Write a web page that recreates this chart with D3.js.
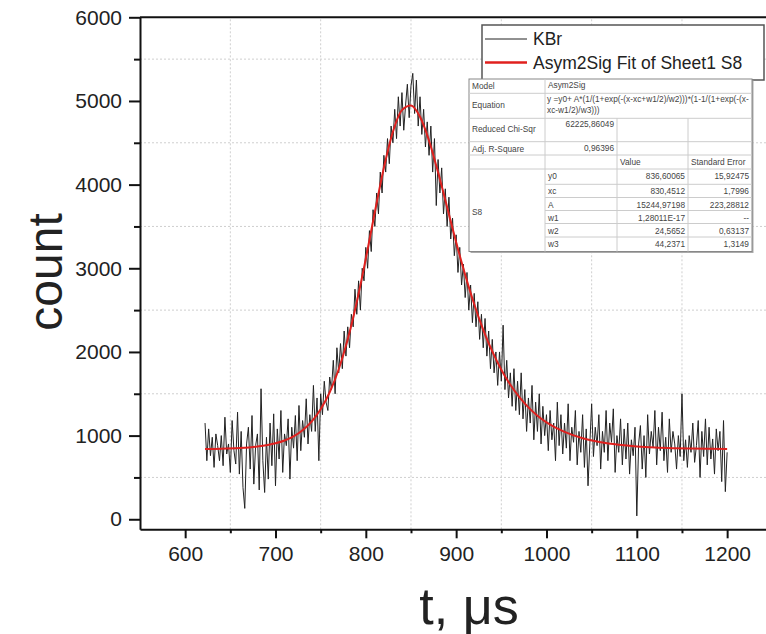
<!DOCTYPE html>
<html>
<head>
<meta charset="utf-8">
<script src="https://cdn.jsdelivr.net/npm/d3@7"></script>
<style>
  body { margin: 0; background: #fff; }
  svg { display: block; font-family: Arial, "Liberation Sans", sans-serif; }
</style>
</head>
<body>
<div id="chart"></div>
<script>
// measured counts, one every 2 us starting at 622 us
var tStart = 622;
var tStep = 2;
var counts = [
  1150, 700, 1080, 760, 980, 620, 1020, 880, 700, 1000,
  640, 1220, 780, 900, 560, 1180, 820, 660, 1280, 540,
  1050, 380, 130, 900, 1100, 600, 1240, 420, 880, 1020,
  350, 1560, 700, 320, 980, 480, 1150, 640, 1260, 400,
  1080, 720, 1300, 560, 1020, 880, 1200, 480, 1100, 850,
  1240, 700, 1360, 820, 1180, 980, 1440, 900, 1250, 1050,
  1600, 1050, 1450, 700, 1500, 1250, 1650, 1400, 1300, 1700,
  1550, 1900, 1500, 2050, 1750, 2100, 1800, 2250, 1950, 2300,
  2050, 2450, 2300, 2750, 2450, 2850, 2500, 3000, 2850, 3250,
  3000, 3450, 3200, 3700, 3500, 3900, 3650, 4150, 3900, 4350,
  4150, 4550, 4250, 4700, 4500, 4900, 4550, 5050, 4700, 5100,
  4650, 4950, 5200, 4800, 5180, 5330, 4850, 5250, 4700, 5050,
  4600, 4900, 4450, 4750, 4350, 4700, 4150, 4550, 3750, 4300,
  3900, 4200, 3650, 3950, 3500, 3850, 3350, 3600, 3150, 3400,
  2950, 3250, 2800, 3050, 2650, 2950, 2500, 2800, 2350, 2700,
  2300, 2600, 2150, 2450, 2050, 2400, 1950, 2250, 1800, 2150,
  1750, 2000, 1600, 2000, 1650, 2320, 1550, 1900, 1450, 1750,
  1350, 1800, 1300, 1650, 1250, 1750, 1200, 1550, 1050, 1450,
  1150, 1600, 950, 1400, 1050, 1500, 900, 1350, 1000, 1250,
  820, 1300, 950, 1150, 700, 1400, 880, 1250, 780, 1150,
  850, 1380, 700, 1100, 920, 1300, 650, 1050, 800, 1250,
  620, 1080, 400, 900, 1380, 750, 1100, 880, 1250, 600,
  1050, 800, 1300, 700, 1150, 920, 1320, 560, 1000, 800,
  1200, 650, 1080, 720, 1150, 540, 950, 760, 1100, 40,
  900, 1120, 600, 1000, 500, 1250, 780, 1050, 860, 1300,
  650, 1100, 820, 1280, 700, 980, 560, 1200, 800, 1050,
  900, 600, 1000, 750, 1500, 700, 950, 620, 1000, 800,
  1150, 680, 880, 1180, 500, 1050, 750, 1200, 650, 1100,
  720, 960, 540, 1080, 820, 1050, 450, 1180, 330, 800
];

// fitted curve (Asym2Sig)
var fitT = [622, 640, 660, 680, 700, 710, 720, 730, 740, 750, 760, 770, 780, 790, 800,
  810, 820, 830, 840, 850, 860, 870, 880, 890, 900, 910, 920, 930, 940, 950,
  960, 970, 980, 990, 1000, 1020, 1040, 1060, 1080, 1100, 1120, 1140, 1160, 1180, 1200];
var fitCount = [840, 843, 851, 869, 908, 942, 992, 1065, 1168, 1315, 1518, 1793, 2151, 2596, 3116,
  3672, 4203, 4632, 4891, 4947, 4811, 4525, 4147, 3730, 3311, 2921, 2570, 2265, 2006, 1788,
  1607, 1460, 1337, 1238, 1159, 1044, 969, 921, 891, 871, 858, 850, 845, 842, 840];

var xMajor = [600, 700, 800, 900, 1000, 1100, 1200];
var xMinor = [650, 750, 850, 950, 1050, 1150];
var yMajor = [0, 1000, 2000, 3000, 4000, 5000, 6000];
var yMinor = [500, 1500, 2500, 3500, 4500, 5500];

var legendLabels = ['KBr', 'Asym2Sig Fit of Sheet1 S8'];
var legendColors = ['#222', '#e0201e'];

var equationLines = ['y =y0+ A*(1/(1+exp(-(x-xc+w1/2)/w2)))*(1-1/(1+exp(-(x-', 'xc-w1/2)/w3)))'];
var paramNames = ['y0', 'xc', 'A', 'w1', 'w2', 'w3'];
var paramValues = ['836,60065', '830,4512', '15244,97198', '1,28011E-17', '24,5652', '44,2371'];
var paramErrors = ['15,92475', '1,7996', '223,28812', '--', '0,63137', '1,3149'];

var width = 766;
var height = 634;

var svg = d3.select('#chart').append('svg')
    .attr('width', width)
    .attr('height', height);

var x = d3.scaleLinear().domain([550, 1250]).range([140, 772.3]);
var y = d3.scaleLinear().domain([-120, 6000]).range([529.3, 17.3]);

/* dashed grid at the minor ticks */
svg.append('g').selectAll('line.vg')
    .data(xMinor.concat([1250]))
    .enter().append('line')
    .attr('x1', function (d) { return x(d); })
    .attr('x2', function (d) { return x(d); })
    .attr('y1', y(-120))
    .attr('y2', y(6000))
    .attr('stroke', '#cfcfcf')
    .attr('stroke-width', 1)
    .attr('stroke-dasharray', '2,2');

svg.append('g').selectAll('line.hg')
    .data(yMinor)
    .enter().append('line')
    .attr('x1', x(550))
    .attr('x2', x(1250))
    .attr('y1', function (d) { return y(d); })
    .attr('y2', function (d) { return y(d); })
    .attr('stroke', '#cfcfcf')
    .attr('stroke-width', 1)
    .attr('stroke-dasharray', '2,2');

/* data and fit */
var points = counts.map(function (c, i) { return [tStart + i * tStep, c]; });

var line = d3.line()
    .x(function (d) { return x(d[0]); })
    .y(function (d) { return y(d[1]); });

svg.append('path')
    .datum(points)
    .attr('d', line)
    .attr('fill', 'none')
    .attr('stroke', '#222')
    .attr('stroke-width', 1)
    .attr('stroke-linejoin', 'round');

var fitPoints = fitT.map(function (t, i) { return [t, fitCount[i]]; });

svg.append('path')
    .datum(fitPoints)
    .attr('d', line.curve(d3.curveMonotoneX))
    .attr('fill', 'none')
    .attr('stroke', legendColors[1])
    .attr('stroke-width', 2);

/* axes */
svg.append('g')
    .attr('transform', 'translate(0,' + y(-120) + ')')
    .call(d3.axisBottom(x).tickValues(xMajor).tickFormat(d3.format('d')).tickSize(9).tickPadding(8).tickSizeOuter(0));

svg.append('g')
    .attr('transform', 'translate(0,' + y(-120) + ')')
    .call(d3.axisBottom(x).tickValues(xMinor).tickSize(4).tickFormat('').tickSizeOuter(0))
    .select('.domain').remove();

svg.append('g')
    .attr('transform', 'translate(' + x(550) + ',0)')
    .call(d3.axisLeft(y).tickValues(yMajor).tickFormat(d3.format('d')).tickSize(11).tickPadding(7).tickSizeOuter(0));

svg.append('g')
    .attr('transform', 'translate(' + x(550) + ',0)')
    .call(d3.axisLeft(y).tickValues(yMinor).tickSize(6).tickFormat('').tickSizeOuter(0))
    .select('.domain').remove();

svg.selectAll('.domain').attr('stroke', '#111').attr('stroke-width', 2);
svg.selectAll('.tick line').attr('stroke', '#111').attr('stroke-width', 2);
svg.selectAll('.tick text')
    .attr('font-size', '21px')
    .attr('font-family', 'Arial, "Liberation Sans", sans-serif')
    .attr('fill', '#222');

// top frame line
svg.append('line')
    .attr('x1', x(550))
    .attr('x2', x(1250))
    .attr('y1', y(6000))
    .attr('y2', y(6000))
    .attr('stroke', '#111')
    .attr('stroke-width', 2);

/* axis titles */
svg.append('text')
    .attr('transform', 'translate(62,' + 272 + ') rotate(-90)')
    .attr('text-anchor', 'middle')
    .attr('font-size', '48px')
    .attr('fill', '#222')
    .text('count');

svg.append('text')
    .attr('x', 469)
    .attr('y', 624)
    .attr('text-anchor', 'middle')
    .attr('font-size', '52px')
    .attr('fill', '#222')
    .text('t, \u03bcs');

/* legend */
var legend = svg.append('g');

legend.append('rect')
    .attr('x', 482)
    .attr('y', 25)
    .attr('width', 282)
    .attr('height', 55)
    .attr('fill', '#fff')
    .attr('stroke', '#555')
    .attr('stroke-width', 1.5);

legendLabels.forEach(function (label, i) {
    var ly = 39 + i * 23.5;
    legend.append('line')
        .attr('x1', 485)
        .attr('x2', 527)
        .attr('y1', ly)
        .attr('y2', ly)
        .attr('stroke', legendColors[i])
        .attr('stroke-width', i === 0 ? 1 : 2.5);
    legend.append('text')
        .attr('x', 533)
        .attr('y', ly + 6)
        .attr('font-size', '17.5px')
        .attr('fill', '#222')
        .text(label);
});

/* fit results table */
var table = svg.append('g').attr('font-size', '8.3px').attr('fill', '#444');
var cols = [469, 545, 617, 688, 752];
var rows = [79, 93.3, 118.3, 141.7, 155, 169, 184.3, 197.5, 210.5, 223.5, 237, 251.5];

table.append('rect')
    .attr('x', cols[0] + 1.5)
    .attr('y', rows[0] + 1.5)
    .attr('width', cols[4] - cols[0])
    .attr('height', rows[11] - rows[0])
    .attr('fill', '#aaa');

table.append('rect')
    .attr('x', cols[0])
    .attr('y', rows[0])
    .attr('width', cols[4] - cols[0])
    .attr('height', rows[11] - rows[0])
    .attr('fill', '#fff')
    .attr('stroke', '#888')
    .attr('stroke-width', 1);

function hline(yy, x1, x2) {
    table.append('line')
        .attr('x1', x1).attr('x2', x2)
        .attr('y1', yy).attr('y2', yy)
        .attr('stroke', '#ccc').attr('stroke-width', 1);
}
function vline(xx, y1, y2) {
    table.append('line')
        .attr('x1', xx).attr('x2', xx)
        .attr('y1', y1).attr('y2', y2)
        .attr('stroke', '#ccc').attr('stroke-width', 1);
}

// row separators
for (var r = 1; r < 6; r++) { hline(rows[r], cols[0], cols[4]); }
for (var r2 = 6; r2 < 11; r2++) { hline(rows[r2], cols[1], cols[4]); }
vline(cols[1], rows[0], rows[11]);
vline(cols[2], rows[2], rows[11]);
vline(cols[3], rows[2], rows[11]);

function cell(txt, xx, yy, anchor) {
    table.append('text')
        .attr('x', xx)
        .attr('y', yy)
        .attr('text-anchor', anchor || 'start')
        .text(txt);
}

cell('Model', cols[0] + 3, rows[0] + 10);
cell('Asym2Sig', cols[1] + 3, rows[0] + 9);
cell('Equation', cols[0] + 3, rows[1] + 15);
cell(equationLines[0], cols[1] + 2, rows[1] + 9);
cell(equationLines[1], cols[1] + 2, rows[1] + 20);
cell('Reduced Chi-Sqr', cols[0] + 3, rows[2] + 14);
cell('62225,86049', cols[2] - 3, rows[2] + 9, 'end');
cell('Adj. R-Square', cols[0] + 3, rows[3] + 10);
cell('0,96396', cols[2] - 3, rows[3] + 9, 'end');
cell('Value', cols[2] + 3, rows[4] + 10);
cell('Standard Error', cols[3] + 3, rows[4] + 10);
cell('S8', cols[0] + 3, 215);

paramNames.forEach(function (p, i) {
    var ry = rows[5 + i] + 10;
    cell(p, cols[1] + 3, ry);
    cell(paramValues[i], cols[3] - 3, ry, 'end');
    cell(paramErrors[i], cols[4] - 3, ry, 'end');
});
</script>
</body>
</html>
